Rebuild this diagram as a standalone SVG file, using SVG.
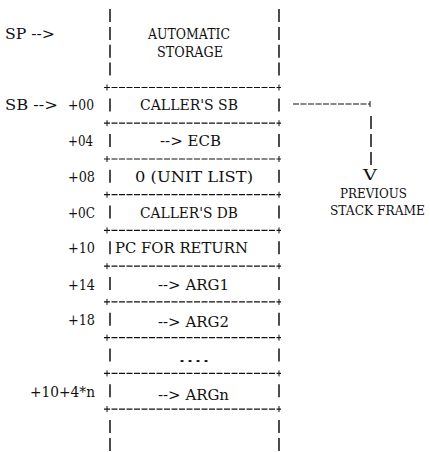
<svg xmlns="http://www.w3.org/2000/svg" width="430" height="452" viewBox="0 0 430 452">
<style>
text{font-family:"DejaVu Serif","Liberation Serif",serif;font-size:14px;fill:#111}
.sm{font-size:12.5px}
.bar{stroke:#111;stroke-width:1.5}
.dash{stroke:#111;stroke-width:1.2;stroke-dasharray:6 1.5}
.tick{stroke:#111;stroke-width:1}
</style>
<defs>
<g id="sep">
<line class="dash" x1="104" y1="0" x2="281" y2="0"/>
<line class="tick" x1="107" y1="-3" x2="107" y2="3"/>
<line class="tick" x1="279" y1="-3" x2="279" y2="3"/>
</g>
<g id="bars">
<line class="bar" x1="110" y1="-7" x2="110" y2="6"/>
<line class="bar" x1="279" y1="-7" x2="279" y2="6"/>
</g>
</defs>
<rect width="430" height="452" fill="#fff"/>
<g id="frame">
<use href="#bars" y="16"/>
<use href="#bars" y="33.9"/>
<use href="#bars" y="51.7"/>
<use href="#bars" y="69.6"/>
<use href="#sep" y="87.5"/>
<use href="#bars" y="105.4"/>
<use href="#sep" y="123.2"/>
<use href="#bars" y="141.1"/>
<use href="#sep" y="159"/>
<use href="#bars" y="176.8"/>
<use href="#sep" y="194.7"/>
<use href="#bars" y="212.6"/>
<use href="#sep" y="230.4"/>
<use href="#bars" y="248.3"/>
<use href="#sep" y="266.2"/>
<use href="#bars" y="284.1"/>
<use href="#sep" y="301.9"/>
<use href="#bars" y="319.8"/>
<use href="#sep" y="337.7"/>
<use href="#bars" y="355.5"/>
<use href="#sep" y="373.4"/>
<use href="#bars" y="391.3"/>
<use href="#sep" y="409.1"/>
<use href="#bars" y="427"/>
<use href="#bars" y="444.9"/>
</g>
<g id="pointers">
<text x="5" y="38.9" textLength="50" lengthAdjust="spacingAndGlyphs">SP --&gt;</text>
<text x="5" y="110.4" textLength="53" lengthAdjust="spacingAndGlyphs">SB --&gt;</text>
</g>
<g id="offsets">
<text x="68" y="110.4" textLength="26" lengthAdjust="spacingAndGlyphs">+00</text>
<text x="68" y="146.1" textLength="25" lengthAdjust="spacingAndGlyphs">+04</text>
<text x="68" y="181.8" textLength="27" lengthAdjust="spacingAndGlyphs">+08</text>
<text x="68" y="217.6" textLength="27" lengthAdjust="spacingAndGlyphs">+0C</text>
<text x="68" y="253.3" textLength="27" lengthAdjust="spacingAndGlyphs">+10</text>
<text x="68" y="289.6" textLength="27" lengthAdjust="spacingAndGlyphs">+14</text>
<text x="68" y="325.3" textLength="27" lengthAdjust="spacingAndGlyphs">+18</text>
<text x="30" y="397.3" textLength="65" lengthAdjust="spacingAndGlyphs">+10+4*n</text>
</g>
<g id="cell-automatic">
<text x="148" y="38.9" textLength="82" lengthAdjust="spacingAndGlyphs">AUTOMATIC</text>
<text x="157" y="56.7" textLength="66" lengthAdjust="spacingAndGlyphs">STORAGE</text>
</g>
<g id="cell-callers-sb"><text x="140" y="110.4" textLength="98" lengthAdjust="spacingAndGlyphs">CALLER'S SB</text></g>
<g id="cell-ecb"><text x="160" y="146.1" textLength="61" lengthAdjust="spacingAndGlyphs">--&gt; ECB</text></g>
<g id="cell-unit-list"><text x="135" y="181.8" textLength="118" lengthAdjust="spacingAndGlyphs">0 (UNIT LIST)</text></g>
<g id="cell-callers-db"><text x="140" y="217.6" textLength="98" lengthAdjust="spacingAndGlyphs">CALLER'S DB</text></g>
<g id="cell-pc"><text x="115" y="253.3" textLength="133" lengthAdjust="spacingAndGlyphs">PC FOR RETURN</text></g>
<g id="cell-arg1"><text x="158" y="289.6" textLength="71" lengthAdjust="spacingAndGlyphs">--&gt; ARG1</text></g>
<g id="cell-arg2"><text x="158" y="326.6" textLength="71" lengthAdjust="spacingAndGlyphs">--&gt; ARG2</text></g>
<g id="cell-dots"><text x="178" y="362" textLength="32" lengthAdjust="spacingAndGlyphs">....</text></g>
<g id="cell-argn"><text x="158" y="399.6" textLength="71" lengthAdjust="spacingAndGlyphs">--&gt; ARGn</text></g>
<g id="connectors">
<line class="dash" x1="293" y1="104" x2="370" y2="104"/>
<line class="tick" x1="370" y1="101" x2="370" y2="107"/>
<line class="bar" x1="371" y1="116" x2="371" y2="129"/>
<line class="bar" x1="371" y1="134" x2="371" y2="147"/>
<line class="bar" x1="371" y1="152" x2="371" y2="165"/>
</g>
<g id="previous-frame">
<text x="363" y="180" textLength="14" lengthAdjust="spacingAndGlyphs">V</text>
<text class="sm" x="340" y="198" textLength="67" lengthAdjust="spacingAndGlyphs">PREVIOUS</text>
<text class="sm" x="330" y="215" textLength="95" lengthAdjust="spacingAndGlyphs">STACK FRAME</text>
</g>
</svg>
